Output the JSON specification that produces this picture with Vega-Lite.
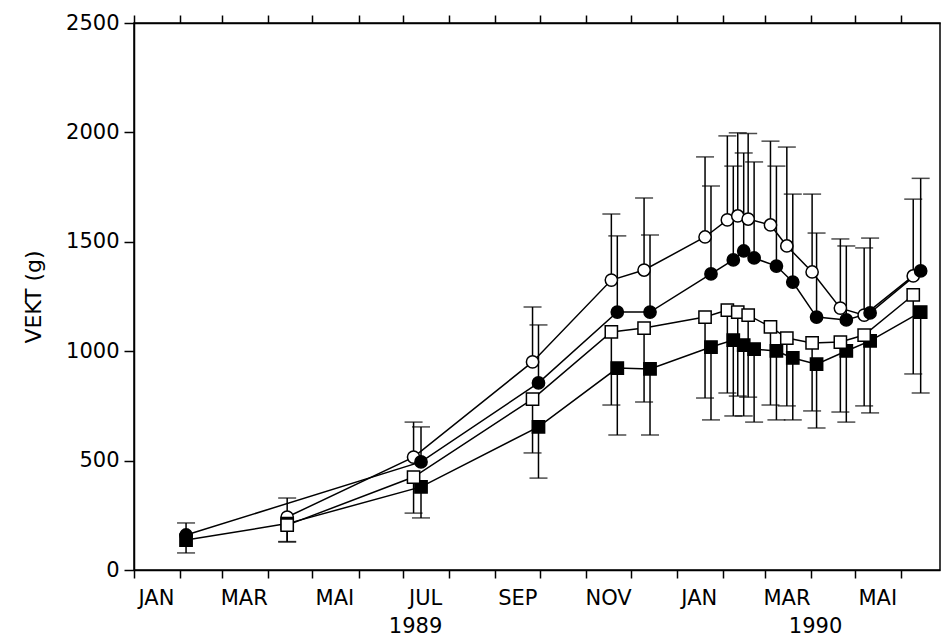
{
  "$schema": "https://vega.github.io/schema/vega-lite/v6.json",
  "width": 806,
  "height": 547,
  "autosize": {"type": "none"},
  "padding": {"left": 134, "top": 23, "right": 2, "bottom": 66},
  "background": "white",
  "config": {
    "view": {"stroke": "black", "strokeWidth": 1.5},
    "font": "DejaVu Sans",
    "axis": {
      "domainColor": "black", "domainWidth": 1.5, "tickColor": "black", "tickWidth": 1.5,
      "labelColor": "black", "labelFont": "DejaVu Sans", "labelFontSize": 21, "labelFontWeight": "normal",
      "titleColor": "black", "titleFont": "DejaVu Sans", "titleFontSize": 22, "titleFontWeight": "normal",
      "grid": false
    }
  },
  "data": {"values": [
    {"s":"oc","date":"1989-04-14","val":242,"err":329},
    {"s":"oc","date":"1989-07-08","val":516,"err":676},
    {"s":"oc","date":"1989-09-26","val":951,"err":1202},
    {"s":"oc","date":"1989-11-18","val":1325,"err":1627},
    {"s":"oc","date":"1989-12-10","val":1371,"err":1700},
    {"s":"oc","date":"1990-01-20","val":1522,"err":1888},
    {"s":"oc","date":"1990-02-04","val":1600,"err":1984},
    {"s":"oc","date":"1990-02-11","val":1618,"err":1998},
    {"s":"oc","date":"1990-02-18","val":1604,"err":1995},
    {"s":"oc","date":"1990-03-05","val":1577,"err":1960},
    {"s":"oc","date":"1990-03-16","val":1481,"err":1933},
    {"s":"oc","date":"1990-04-02","val":1362,"err":1718},
    {"s":"oc","date":"1990-04-21","val":1197,"err":1513},
    {"s":"oc","date":"1990-05-07","val":1165,"err":1472},
    {"s":"oc","date":"1990-06-09","val":1344,"err":1695},
    {"s":"fc","date":"1989-02-05","val":160,"err":215},
    {"s":"fc","date":"1989-07-13","val":494,"err":654},
    {"s":"fc","date":"1989-09-30","val":855,"err":1120},
    {"s":"fc","date":"1989-11-22","val":1179,"err":1527},
    {"s":"fc","date":"1989-12-14","val":1179,"err":1531},
    {"s":"fc","date":"1990-01-24","val":1353,"err":1755},
    {"s":"fc","date":"1990-02-08","val":1417,"err":1846},
    {"s":"fc","date":"1990-02-15","val":1458,"err":1906},
    {"s":"fc","date":"1990-02-22","val":1426,"err":1865},
    {"s":"fc","date":"1990-03-09","val":1389,"err":1846},
    {"s":"fc","date":"1990-03-20","val":1316,"err":1718},
    {"s":"fc","date":"1990-04-05","val":1156,"err":1540},
    {"s":"fc","date":"1990-04-25","val":1143,"err":1481},
    {"s":"fc","date":"1990-05-11","val":1175,"err":1517},
    {"s":"fc","date":"1990-06-14","val":1367,"err":1790},
    {"s":"fs","date":"1989-02-05","val":137,"err":78},
    {"s":"fs","date":"1989-04-14","val":212,"err":130},
    {"s":"fs","date":"1989-07-13","val":380,"err":238},
    {"s":"fs","date":"1989-09-30","val":654,"err":420},
    {"s":"fs","date":"1989-11-22","val":923,"err":617},
    {"s":"fs","date":"1989-12-14","val":919,"err":617},
    {"s":"fs","date":"1990-01-24","val":1019,"err":686},
    {"s":"fs","date":"1990-02-08","val":1051,"err":704},
    {"s":"fs","date":"1990-02-15","val":1028,"err":704},
    {"s":"fs","date":"1990-02-22","val":1010,"err":676},
    {"s":"fs","date":"1990-03-09","val":1001,"err":686},
    {"s":"fs","date":"1990-03-20","val":969,"err":686},
    {"s":"fs","date":"1990-04-05","val":941,"err":649},
    {"s":"fs","date":"1990-04-25","val":1001,"err":676},
    {"s":"fs","date":"1990-05-11","val":1047,"err":718},
    {"s":"fs","date":"1990-06-14","val":1179,"err":809},
    {"s":"os","date":"1989-04-14","val":205,"err":128},
    {"s":"os","date":"1989-07-08","val":425,"err":260},
    {"s":"os","date":"1989-09-26","val":781,"err":535},
    {"s":"os","date":"1989-11-18","val":1088,"err":754},
    {"s":"os","date":"1989-12-10","val":1106,"err":768},
    {"s":"os","date":"1990-01-20","val":1156,"err":786},
    {"s":"os","date":"1990-02-04","val":1188,"err":809},
    {"s":"os","date":"1990-02-11","val":1179,"err":795},
    {"s":"os","date":"1990-02-18","val":1165,"err":790},
    {"s":"os","date":"1990-03-05","val":1111,"err":754},
    {"s":"os","date":"1990-03-16","val":1060,"err":750},
    {"s":"os","date":"1990-04-02","val":1038,"err":727},
    {"s":"os","date":"1990-04-21","val":1042,"err":722},
    {"s":"os","date":"1990-05-07","val":1074,"err":750},
    {"s":"os","date":"1990-06-09","val":1257,"err":896}
  ]},
  "resolve": {"axis": {"x": "independent"}},
  "layer": [
    {
      "mark": {"type": "rule", "color": "black", "strokeWidth": 1.5},
      "encoding": {
        "x": {"field": "date", "type": "temporal",
              "scale": {"type": "utc", "domain": [{"year": 1989, "month": 1, "date": 1, "utc": true}, {"year": 1990, "month": 6, "date": 27, "utc": true}]},
              "axis": {"orient": "bottom", "title": null, "tickCount": {"interval": "month", "step": 1}, "tickSize": 8,
                       "labelExpr": "utcmonth(datum.value) % 2 == 0 ? ['JAN','FEB','MAR','APR','MAI','JUN','JUL','AUG','SEP','OKT','NOV','DES'][utcmonth(datum.value)] : ''",
                       "labelOffset": 22, "labelPadding": 9, "labelFlush": false, "labelOverlap": false, "labelBound": false}},
        "y": {"field": "val", "type": "quantitative", "scale": {"domain": [0, 2500]},
              "axis": {"title": "VEKT (g)", "format": "d", "values": [0, 500, 1000, 1500, 2000, 2500], "tickSize": 10, "labelPadding": 5, "titlePadding": 20}},
        "y2": {"field": "err"}
      }
    },
    {
      "mark": {"type": "tick", "orient": "horizontal", "color": "black", "size": 18, "thickness": 1.5},
      "encoding": {
        "x": {"field": "date", "type": "temporal",
              "scale": {"type": "utc", "domain": [{"year": 1989, "month": 1, "date": 1, "utc": true}, {"year": 1990, "month": 6, "date": 27, "utc": true}]},
              "axis": {"orient": "bottom", "title": null, "ticks": false, "tickSize": 0, "domain": false, "format": "%Y",
                       "values": [{"year": 1989, "month": 7, "date": 9, "utc": true}, {"year": 1990, "month": 4, "date": 4, "utc": true}],
                       "labelPadding": 45, "labelFlush": false, "labelOverlap": false, "labelBound": false}},
        "y": {"field": "err", "type": "quantitative", "scale": {"domain": [0, 2500]},
              "axis": {"title": "VEKT (g)", "format": "d", "values": [0, 500, 1000, 1500, 2000, 2500], "tickSize": 10, "labelPadding": 5, "titlePadding": 20}}
      }
    },
    {
      "mark": {"type": "line", "color": "black", "strokeWidth": 1.5},
      "encoding": {
        "x": {"field": "date", "type": "temporal",
              "scale": {"type": "utc", "domain": [{"year": 1989, "month": 1, "date": 1, "utc": true}, {"year": 1990, "month": 6, "date": 27, "utc": true}]},
              "axis": {"orient": "top", "title": null, "tickCount": {"interval": "month", "step": 1}, "tickSize": 8, "labels": false}},
        "y": {"field": "val", "type": "quantitative", "scale": {"domain": [0, 2500]},
              "axis": {"title": "VEKT (g)", "format": "d", "values": [0, 500, 1000, 1500, 2000, 2500], "tickSize": 10, "labelPadding": 5, "titlePadding": 20}},
        "detail": {"field": "s"}
      }
    },
    {
      "mark": {"type": "point", "stroke": "black", "strokeWidth": 1.5, "size": 150, "opacity": 1},
      "encoding": {
        "x": {"field": "date", "type": "temporal",
              "scale": {"type": "utc", "domain": [{"year": 1989, "month": 1, "date": 1, "utc": true}, {"year": 1990, "month": 6, "date": 27, "utc": true}]},
              "axis": null},
        "y": {"field": "val", "type": "quantitative", "scale": {"domain": [0, 2500]},
              "axis": {"title": "VEKT (g)", "format": "d", "values": [0, 500, 1000, 1500, 2000, 2500], "tickSize": 10, "labelPadding": 5, "titlePadding": 20}},
        "shape": {"field": "s", "type": "nominal", "scale": {"domain": ["oc", "fc", "fs", "os"], "range": ["circle", "circle", "square", "square"]}, "legend": null},
        "fill": {"field": "s", "type": "nominal", "scale": {"domain": ["oc", "fc", "fs", "os"], "range": ["white", "black", "black", "white"]}, "legend": null}
      }
    }
  ]
}
